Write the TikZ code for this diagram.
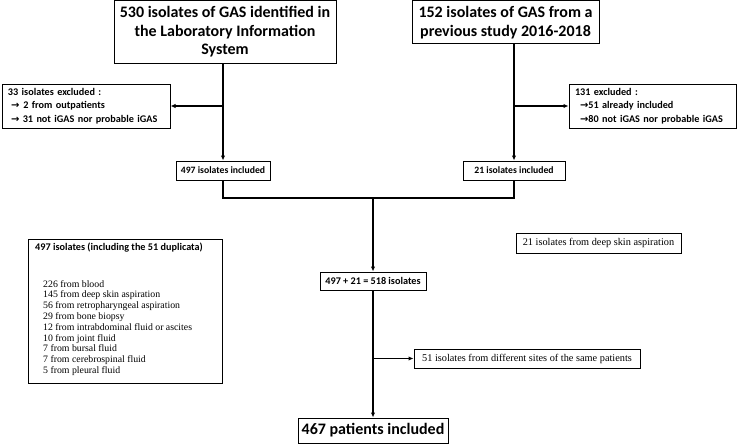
\documentclass[tikz,border=0pt]{standalone}
\usepackage{fontspec}
\setmainfont{Carlito}
\newfontfamily\seriff{Liberation Serif}
\newfontfamily\arrowf{DejaVu Sans}
\usetikzlibrary{arrows.meta}
\newcommand\myarr{{\arrowf\bfseries\fontsize{10}{10}\selectfont →}}
\begin{document}
\begin{tikzpicture}[x=1pt,y=-1pt,
  box/.style={draw, line width=1pt, inner sep=2pt},
  big/.style={font=\fontsize{16}{18.5}\selectfont\bfseries},
  small/.style={font=\fontsize{10.2}{13.5}\selectfont\bfseries},
  smallc/.style={font=\fontsize{9.7}{12}\selectfont\bfseries},
  ser/.style={font=\seriff\fontsize{9.8}{10.8}\selectfont},
  serb/.style={font=\seriff\fontsize{10.3}{11}\selectfont},
  conn/.style={line width=1.5pt},
  arr/.style={conn, -{Latex[length=5pt,width=4.5pt]}}]
\fill[white] (0,0) rectangle (738,444);
\useasboundingbox (0,0) rectangle (738,444);

\node[box, big, minimum width=222pt, minimum height=62pt, align=center] (A) at (225,32)
  {530 isolates of GAS identified in\\the Laboratory Information\\System};
\node[box, big, minimum width=187pt, minimum height=43pt, align=center] (B) at (505.5,22.5)
  {152 isolates of GAS from a\\previous study 2016-2018};

\node[box, small, minimum width=168pt, minimum height=44pt, text width=156pt, inner xsep=6pt, align=left] (exL) at (86,106)
  {33 isolates excluded :\\\hspace*{3pt}\myarr\hspace{4pt}2 from outpatients\\\hspace*{3pt}\myarr\ 31 not iGAS nor probable iGAS};
\node[box, small, minimum width=167pt, minimum height=44pt, text width=155pt, inner xsep=6pt, align=left] (exR) at (652.5,106)
  {131 excluded :\\\hspace*{5pt}\myarr51 already included\\\hspace*{5pt}\myarr80 not iGAS nor probable iGAS};

\node[box, smallc, minimum width=94pt, minimum height=19pt] (inc1) at (223,170.5) {497 isolates included};
\node[box, smallc, minimum width=102pt, minimum height=19pt] (inc2) at (514,170.5) {21 isolates included};

\node[box, small, minimum width=106pt, minimum height=18pt] (sum) at (373,281) {497 + 21 = 518 isolates};
\node[box, big, minimum width=150pt, minimum height=25pt] (final) at (373,430.5) {467 patients included};

\node[box, serb, minimum width=165pt, minimum height=20pt] (deep) at (598.5,243) {21 isolates from deep skin aspiration};
\node[box, serb, minimum width=226pt, minimum height=19pt] (side) at (527,358.5) {51 isolates from different sites of the same patients};

\node[box, minimum width=194pt, minimum height=144pt] (listbox) at (125,311) {};
\node[small, anchor=west, inner sep=0pt] (listhead) at (35,248) {497 isolates (including the 51 duplicata)};
\node[ser, anchor=north west, inner sep=0pt, align=left] (items) at (43,280)
  {226 from blood\\145 from deep skin aspiration\\56 from retropharyngeal aspiration\\29 from bone biopsy\\12 from intrabdominal fluid or ascites\\10 from joint fluid\\7 from bursal fluid\\7 from cerebrospinal fluid\\5 from pleural fluid};

\coordinate (j) at (373,198);
\draw[arr] (inc1.north |- A.south) -- (inc1.north);
\draw[arr] (inc1.north |- exL.east) -- (exL.east);
\draw[arr] (inc2.north |- B.south) -- (inc2.north);
\draw[arr] (inc2.north |- exR.west) -- (exR.west);
\draw[conn] (inc1.south) |- (j) -| (inc2.south);
\draw[arr] (j) -- (sum.north);
\draw[arr] (sum.south) -- (final.north);
\draw[arr] (sum.south |- side.west) -- (side.west);
\end{tikzpicture}
\end{document}
